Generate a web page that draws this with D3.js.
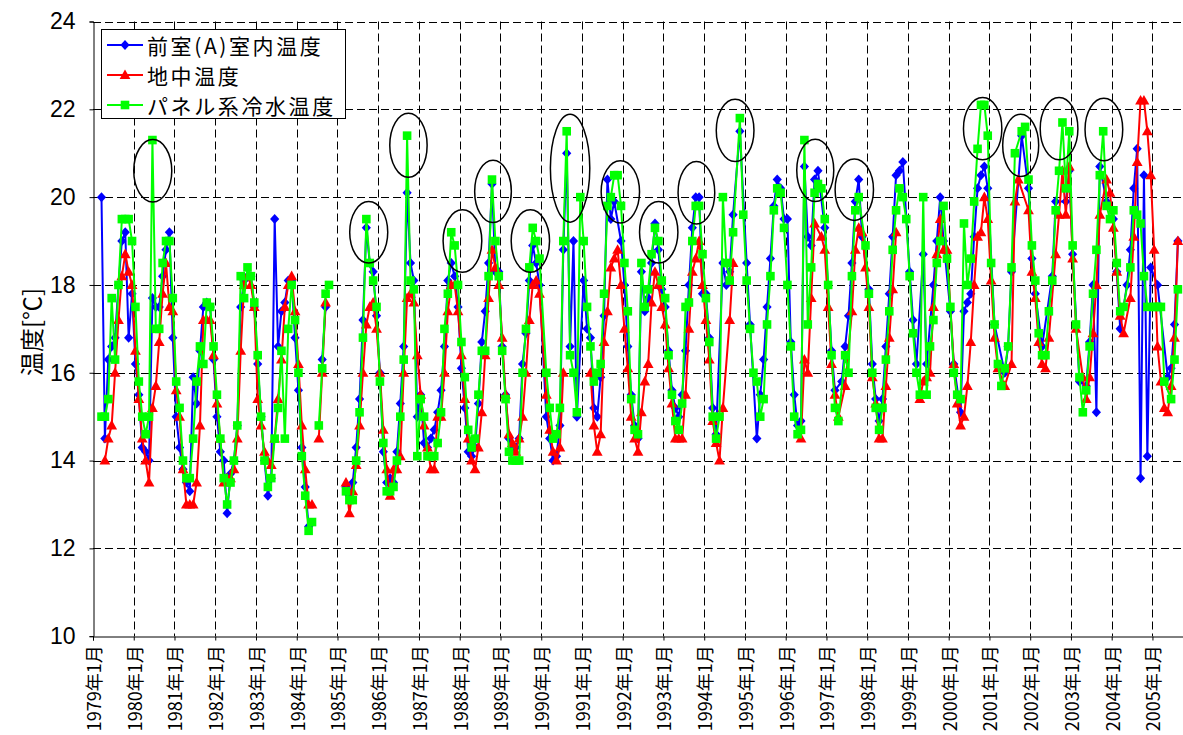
<!DOCTYPE html>
<html>
<head>
<meta charset="utf-8">
<script src="https://cdn.jsdelivr.net/npm/d3@7"></script>
<style>
  body { margin: 0; background: #fff; }
  svg { display: block; }
</style>
</head>
<body>
<svg id="chart" width="1183" height="735"></svg>
<script>
// Monthly readings, one row per year (Jan..Dec), Jan 1979 – Sep 2005. null = no reading.
const years = [1979,1980,1981,1982,1983,1984,1985,1986,1987,1988,1989,1990,1991,1992,
               1993,1994,1995,1996,1997,1998,1999,2000,2001,2002,2003,2004,2005];

// 前室(A)室内温度
const roomTemp = [
  [null,null,20.0,14.5,16.3,16.6,16.8,18.0,19.0,19.2,16.8,17.8],
  [16.2,15.5,14.3,14.2,14.0,17.7,17.5,17.5,18.2,18.8,19.2,16.8],
  [15.0,14.3,13.8,13.5,13.3,15.9,15.3,16.5,17.5,17.6,17.5,16.3],
  [15.0,14.2,14.0,12.8,13.7,14.0,14.8,17.5,18.1,18.2,18.2,17.5],
  [16.2,15.0,14.0,13.2,13.6,19.5,16.6,17.4,17.6,18.1,18.1,16.8],
  [15.6,14.3,13.4,12.5,null,null,null,16.3,17.5,null,null,null],
  [null,null,13.4,13.2,13.5,14.3,15.4,17.2,19.3,18.5,18.3,17.3],
  [16.0,14.2,13.5,13.6,13.5,14.2,15.3,16.6,20.1,18.5,18.1,15.0],
  [15.5,14.4,14.3,14.5,14.7,15.1,15.6,16.6,18.1,18.5,18.2,17.5],
  [16.1,15.2,14.2,14.1,14.3,15.3,16.7,17.4,18.5,20.3,18.3,18.3],
  [16.6,15.5,14.5,14.3,14.3,14.5,16.2,16.9,18.1,18.9,18.5,18.0],
  [null,15.0,14.5,14.0,14.1,14.8,18.8,21.0,16.6,19.0,15.0,null],
  [18.1,17.0,16.8,15.2,15.0,15.9,17.3,20.4,19.5,19.9,null,19.0],
  [18.0,16.6,15.5,14.8,14.5,18.3,17.4,17.7,18.5,19.4,18.8,17.9],
  [17.5,16.5,15.6,15.2,15.0,15.5,16.5,18.0,19.3,20.0,20.0,17.8],
  [17.8,16.8,15.2,14.6,null,18.5,18.0,18.3,19.6,null,21.5,null],
  [18.5,17.1,null,14.5,15.5,16.3,17.5,18.6,19.8,20.4,20.2,19.5],
  [19.5,16.7,15.5,14.8,14.9,20.7,19.1,18.9,20.4,20.6,null,19.3],
  [null,16.5,15.6,null,15.8,16.6,17.3,18.5,19.9,20.4,19.1,null],
  [17.9,16.2,15.4,14.9,15.4,16.6,17.8,19.1,20.5,20.6,20.8,null],
  [18.3,17.2,16.2,null,18.7,16.2,null,18.0,19.0,20.0,19.0,null],
  [17.4,16.2,null,15.1,17.4,17.6,17.8,19.1,20.2,20.5,20.7,20.2],
  [null,17.1,null,null,16.0,16.6,18.3,null,null,21.4,null,20.2],
  [18.6,17.8,null,16.6,null,null,18.2,19.9,null,null,19.9,20.6],
  [18.7,null,15.8,null,15.7,16.7,18.0,15.1,20.7,null,19.9,null],
  [19.5,18.3,17.0,null,18.0,18.8,20.2,21.1,13.6,20.5,14.1,18.4],
  [null,18.0,null,null,15.9,16.1,17.1,19.0,null]
];

// 地中温度
const groundTemp = [
  [null,null,null,14.0,14.5,14.8,16.0,17.2,18.2,18.7,18.3,18.0],
  [16.5,15.4,14.5,14.0,13.5,15.2,15.7,16.7,17.8,18.5,17.5,17.4],
  [15.6,15.0,13.8,13.0,13.0,13.0,13.5,14.8,17.2,17.2,17.2,16.4],
  [15.3,14.5,13.5,13.6,13.6,13.8,14.5,16.5,18.0,18.2,18.0,17.5],
  [15.4,14.8,14.2,14.0,13.9,14.5,15.4,16.3,17.5,18.0,18.2,17.4],
  [16.2,14.8,13.8,13.0,13.0,null,14.5,16.0,17.6,null,null,null],
  [null,null,13.5,12.8,13.3,13.9,14.8,16.0,17.1,17.5,17.6,17.0],
  [16.0,14.7,13.8,13.2,13.8,13.8,14.1,16.0,17.7,17.8,17.6,16.4],
  [15.5,14.8,14.3,13.8,13.8,15.0,15.0,16.0,17.4,18.0,18.0,17.4],
  [16.4,15.4,14.5,14.0,13.8,14.3,15.1,16.4,17.7,18.8,18.4,18.0],
  [16.8,15.5,14.6,14.4,14.2,14.5,15.0,16.0,17.2,18.0,18.1,17.8],
  [null,15.5,14.7,14.2,14.0,14.3,16.0,null,null,null,null,null],
  [null,null,16.0,14.8,14.2,14.6,16.7,17.4,18.4,18.6,18.8,18.0],
  [17.0,16.1,15.0,14.5,14.2,15.1,15.8,16.2,17.6,18.3,18.0,17.5],
  [17.1,16.1,15.3,14.5,14.5,14.5,15.5,17.0,18.3,18.6,19.0,18.0],
  [17.2,16.3,14.9,14.4,14.0,15.2,null,17.2,18.5,null,null,null],
  [null,null,null,null,null,null,null,null,null,null,null,null],
  [null,null,null,null,14.5,16.3,16.0,17.7,19.4,null,19.1,18.8],
  [17.5,16.2,15.5,15.0,null,15.7,null,17.4,18.8,19.3,19.2,18.4],
  [17.5,15.9,15.3,14.5,14.5,15.7,16.8,17.9,19.2,null,null,null],
  [null,null,null,15.4,15.8,15.9,16.0,17.5,18.7,19.5,18.8,18.8],
  [null,16.2,15.3,14.8,15.0,15.7,16.7,18.0,19.1,19.2,20.0,19.5],
  [18.1,16.8,16.1,null,15.7,null,16.2,19.9,20.4,null,null,19.7],
  [18.3,17.7,16.7,16.2,16.1,16.8,null,18.7,19.6,20.6,19.6,20.7],
  [18.6,17.0,null,15.9,15.4,15.9,16.9,18.0,19.6,null,20.4,20.1],
  [19.3,18.3,17.3,16.9,null,17.7,19.1,20.8,22.2,22.2,21.5,20.5],
  [18.8,16.6,15.8,15.2,15.1,15.7,16.8,19.0,null]
];

// パネル系冷水温度
const panelWaterTemp = [
  [null,null,15.0,15.0,15.4,17.7,16.3,18.0,19.5,19.5,19.5,19.0],
  [17.5,15.8,15.0,14.6,15.0,21.3,17.0,17.0,18.5,19.0,19.0,17.7],
  [15.8,15.2,14.0,13.6,13.6,14.5,15.8,16.6,16.2,17.6,17.5,16.6],
  [15.5,14.5,13.6,13.0,13.5,14.0,14.8,18.2,17.7,18.4,18.2,17.6],
  [16.4,15.0,14.0,13.4,13.6,14.5,15.2,16.5,14.5,17.0,18.0,17.2],
  [16.0,14.1,13.2,12.4,12.6,null,14.8,16.1,17.8,18.0,null,null],
  [null,null,13.3,13.1,13.1,14.0,15.1,16.8,19.5,18.5,18.1,17.5],
  [15.8,14.4,13.3,13.3,13.4,14.0,15.0,16.3,21.4,18.1,17.9,14.1],
  [15.4,15.0,14.1,14.1,14.1,14.4,15.1,17.0,17.8,19.2,18.9,18.0],
  [16.7,15.9,14.7,14.3,14.5,15.5,16.5,16.5,18.2,20.4,19.0,18.2],
  [16.5,15.4,14.2,14.0,14.0,14.0,16.0,17.0,18.4,19.3,19.0,18.6],
  [null,16.0,15.2,14.5,14.6,15.2,19.0,21.5,16.4,16.0,15.1,20.0],
  [19.0,17.5,16.6,15.8,16.0,16.2,17.8,19.8,20.0,20.5,20.5,19.8],
  [18.5,17.4,15.4,14.7,14.6,18.5,17.5,17.9,18.7,19.3,19.0,18.1],
  [17.7,16.4,15.5,14.9,14.7,15.3,17.5,17.6,19.0,19.8,19.8,18.7],
  [17.7,16.7,15.0,14.5,15.0,20.0,18.5,18.1,19.2,null,21.8,19.6],
  [18.1,17.0,16.0,15.8,15.0,15.4,17.1,18.2,19.7,20.2,20.1,19.3],
  [18.0,16.6,15.0,14.6,14.7,21.3,17.1,18.4,20.1,20.3,20.2,19.5],
  [18.0,16.4,15.2,14.9,null,16.4,16.0,18.2,19.7,20.0,null,18.9],
  [17.8,16.0,15.2,14.7,15.2,16.3,17.4,18.8,19.7,20.2,20.0,19.5],
  [18.2,16.9,16.0,15.5,20.0,15.5,16.6,17.2,18.5,19.0,19.8,18.6],
  [17.5,16.0,15.5,15.4,19.4,18.0,18.6,19.9,21.1,22.1,22.1,21.4],
  [18.5,17.1,16.2,15.7,16.1,16.6,18.4,21.0,null,21.5,21.6,20.4],
  [18.9,18.1,16.9,16.4,16.4,17.4,18.1,19.7,20.6,21.7,20.2,21.5],
  [18.9,17.1,15.9,15.1,15.6,16.6,17.8,18.8,20.5,21.5,19.8,19.5],
  [19.7,18.5,17.4,17.5,null,18.4,19.7,19.6,19.4,18.2,17.5,null],
  [17.5,17.5,17.5,15.8,null,15.4,16.3,17.9,null]
];

// Logging outages [first month, last month] (index from Jan 1979): the trace breaks across these.
const outagesAll = [[65, 65], [70, 73]];
const outagesGround = [[139, 145], [189, 207], [237, 242]];

const seriesNames = ["前室(A)室内温度", "地中温度", "パネル系冷水温度"];
const seriesColors = ["#0000ff", "#ff0000", "#00ff00"];
const seriesMarkers = ["diamond", "triangle", "square"];

const yTicks = [10, 12, 14, 16, 18, 20, 22, 24];
const yTitle = "温度[℃]";

// Highlighted peaks: [month index, °C, half-width in months, half-height in °C]
const highlights = [
  [17.1, 20.6, 5.6, 0.71], [80.7, 19.2, 5.6, 0.70], [92.4, 21.18, 5.5, 0.73],
  [108.3, 19.0, 5.7, 0.71], [117.3, 20.13, 5.4, 0.71], [128.3, 19.0, 5.65, 0.71],
  [140.0, 20.66, 5.8, 1.23], [154.8, 20.12, 5.65, 0.71], [166.1, 19.2, 5.65, 0.70],
  [177.2, 20.1, 5.4, 0.71], [188.6, 21.52, 5.55, 0.71], [212.2, 20.61, 5.45, 0.71],
  [223.7, 20.17, 5.65, 0.70], [261.5, 21.56, 5.65, 0.71], [272.7, 21.18, 5.3, 0.71],
  [284.0, 21.56, 5.55, 0.71], [297.2, 21.54, 5.55, 0.71]
];

// ---------------------------------------------------------------
const monthCount = 321;
const plot = { left: 93, right: 1183, top: 21.5, bottom: 636.2 };

const x = d3.scaleLinear().domain([0, monthCount]).range([plot.left, plot.right]);
const y = d3.scaleLinear().domain([10, 24]).range([plot.bottom, plot.top]);

const svg = d3.select("#chart");
const jpFont = "'Noto Sans CJK JP', 'Noto Sans', sans-serif";
const numFont = "'Liberation Sans', Arial, sans-serif";

// gridlines
const grid = svg.append("g").attr("stroke", "#000").attr("stroke-width", 1)
  .attr("stroke-dasharray", "8,4").attr("fill", "none");
grid.selectAll("line.h").data(yTicks.filter(t => t > 10)).join("line")
  .attr("x1", plot.left).attr("x2", plot.right)
  .attr("y1", d => Math.round(y(d)) + 0.5).attr("y2", d => Math.round(y(d)) + 0.5);
grid.selectAll("line.v").data(years.slice(1)).join("line")
  .attr("y1", plot.top).attr("y2", plot.bottom)
  .attr("x1", d => Math.round(x((d - years[0]) * 12)) + 0.5)
  .attr("x2", d => Math.round(x((d - years[0]) * 12)) + 0.5);

// axes
const yAxis = d3.axisLeft(y).tickValues(yTicks).tickSize(4).tickPadding(14);
const gy = svg.append("g").attr("transform", `translate(${plot.left + 0.5},0)`).call(yAxis);
gy.selectAll("text").attr("font-family", numFont).attr("font-size", 23).attr("fill", "#000");
gy.selectAll("line, path").attr("stroke", "#000");

const xTickPos = years.map(yv => (yv - years[0]) * 12);
const xAxis = d3.axisBottom(x).tickValues(xTickPos).tickSize(4).tickFormat("");
const gx = svg.append("g").attr("transform", `translate(0,${Math.round(plot.bottom) + 0.5})`).call(xAxis);
gx.selectAll("line, path").attr("stroke", "#000");

svg.append("g").selectAll("text").data(years).join("text")
  .attr("transform", d => `translate(${x((d - years[0]) * 12)},${plot.bottom + 9}) rotate(-90)`)
  .attr("text-anchor", "end").attr("dominant-baseline", "central")
  .attr("font-family", jpFont).attr("font-size", 18).attr("fill", "#000")
  .text(d => `${d}年1月`);

svg.append("text")
  .attr("transform", `translate(30,332) rotate(-90)`)
  .attr("text-anchor", "middle").attr("dominant-baseline", "central")
  .attr("font-family", jpFont).attr("font-size", 24).attr("fill", "#000")
  .text(yTitle);

// series
const markerPath = {
  diamond: "M0,-5L4.6,0L0,5L-4.6,0Z",
  triangle: "M0,-5.6L5.4,4L-5.4,4Z",
  square: "M-4.3,-4.3H4.3V4.3H-4.3Z"
};

function segments(values, outages) {
  const pts = [];
  values.forEach((v, i) => { if (v != null) pts.push({ i, v }); });
  const segs = [];
  let cur = [];
  pts.forEach((p, k) => {
    if (k > 0) {
      const prev = pts[k - 1].i;
      const broken = outages.some(([a, b]) => a < p.i && b > prev);
      if (broken) { segs.push(cur); cur = []; }
    }
    cur.push(p);
  });
  if (cur.length) segs.push(cur);
  return { pts, segs };
}

const allSeries = [roomTemp, groundTemp, panelWaterTemp].map(rows => rows.flat());
const line = d3.line().x(d => x(d.i + 0.5)).y(d => y(d.v));

allSeries.forEach((vals, s) => {
  const outages = s === 1 ? outagesAll.concat(outagesGround) : outagesAll;
  const { pts, segs } = segments(vals, outages);
  const g = svg.append("g");
  g.selectAll("path.trace").data(segs).join("path")
    .attr("d", line).attr("fill", "none")
    .attr("stroke", seriesColors[s]).attr("stroke-width", 2).attr("stroke-linejoin", "round");
  g.selectAll("path.mk").data(pts).join("path")
    .attr("transform", d => `translate(${x(d.i + 0.5)},${y(d.v)})`)
    .attr("d", markerPath[seriesMarkers[s]])
    .attr("fill", seriesColors[s]);
});

// highlight ellipses
svg.append("g").selectAll("ellipse").data(highlights).join("ellipse")
  .attr("cx", d => x(d[0] + 0.5)).attr("cy", d => y(d[1]))
  .attr("rx", d => x(d[2]) - x(0)).attr("ry", d => y(0) - y(d[3]))
  .attr("fill", "none").attr("stroke", "#000").attr("stroke-width", 1.5);

// legend
const legend = svg.append("g");
legend.append("rect").attr("x", 101.5).attr("y", 29.5).attr("width", 244).attr("height", 89)
  .attr("fill", "#fff").attr("stroke", "#000").attr("stroke-width", 1);
const rows = legend.selectAll("g.row").data(seriesNames).join("g")
  .attr("transform", (d, k) => `translate(0,${45 + k * 30})`);
rows.append("line").attr("x1", 107).attr("x2", 143)
  .attr("stroke", (d, k) => seriesColors[k]).attr("stroke-width", 2);
rows.append("path").attr("transform", "translate(125,0)")
  .attr("d", (d, k) => markerPath[seriesMarkers[k]])
  .attr("fill", (d, k) => seriesColors[k]);
rows.append("text").attr("x", 147).attr("dominant-baseline", "central")
  .attr("font-family", jpFont).attr("font-size", 21).attr("letter-spacing", 2.6)
  .attr("fill", "#000")
  .text(d => d);
</script>
</body>
</html>
